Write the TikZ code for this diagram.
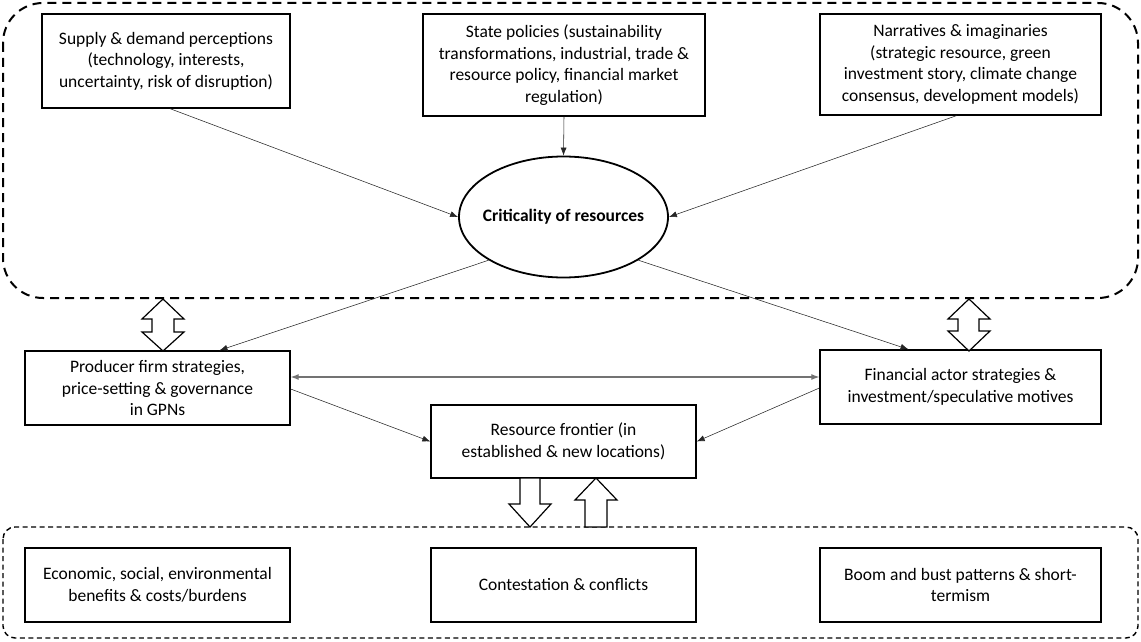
\documentclass[tikz,border=0pt]{standalone}
\usepackage{fontspec}
\setmainfont{Carlito}
\usetikzlibrary{arrows.meta,calc,shapes.geometric}
\begin{document}
\begin{tikzpicture}[x=1pt,y=-1pt,
  box/.style={draw,line width=1.3pt,align=center,inner sep=2pt,font=\fontsize{17.5}{21.5}\selectfont},
  conn/.style={draw=black!85,line width=0.55pt,-{Latex[length=8pt,width=6pt]}},
  hconn/.style={draw=black!55,line width=1.1pt,{Latex[length=8pt,width=6pt]}-{Latex[length=8pt,width=6pt]}},
  topregion/.style={draw,line width=2pt,dash pattern=on 9pt off 6pt,rounded corners=40pt},
  botregion/.style={draw,line width=1.4pt,dash pattern=on 5pt off 3.5pt,rounded corners=12pt},
  blockarrow/.style={draw,line width=1.2pt,fill=white,line join=miter}]
\useasboundingbox (0,0) rectangle (1141,642);

% dashed regions
\draw[topregion] (3,3) rectangle (1138,298);
\draw[botregion] (3,527) rectangle (1138,638);

% top boxes
\node[box,minimum width=248pt,minimum height=94pt] (b1) at (166,61)
  {Supply \& demand perceptions\\(technology, interests,\\uncertainty, risk of disruption)};
\node[box,minimum width=282pt,minimum height=102pt] (b2) at (564,65)
  {State policies (sustainability\\transformations, industrial, trade \&\\resource policy, financial market\\regulation)};
\node[box,minimum width=281pt,minimum height=101pt] (b3) at (960.5,64.5)
  {Narratives \& imaginaries\\(strategic resource, green\\investment story, climate change\\consensus, development models)};

% ellipse
\node[draw,ellipse,line width=1.8pt,inner sep=0pt,minimum width=209pt,minimum height=121pt,
  font=\fontsize{17.5}{21.5}\selectfont\bfseries] (ell) at (563.5,217)
  {\makebox[0pt]{Criticality of resources}};

% middle boxes
\node[box,minimum width=265pt,minimum height=74pt] (prod) at (157.5,388)
  {Producer firm strategies,\\price-setting \& governance\\in GPNs};
\node[box,minimum width=281pt,minimum height=74pt] (fin) at (960.5,387)
  {Financial actor strategies \&\\investment/speculative motives};
\node[box,minimum width=265pt,minimum height=73pt] (res) at (563.5,441.5)
  {Resource frontier (in\\established \& new locations)};

% bottom boxes
\node[box,minimum width=265pt,minimum height=74pt] (econ) at (157.5,585)
  {Economic, social, environmental\\benefits \& costs/burdens};
\node[box,minimum width=265pt,minimum height=74pt] (cont) at (563.5,585)
  {Contestation \& conflicts};
\node[box,minimum width=281pt,minimum height=74pt] (boom) at (960.5,585)
  {Boom and bust patterns \& short-\\termism};

% connectors
\draw[conn] ([xshift=4pt]b1.south) -- (ell.west);
\draw[conn] (b2.south) -- (ell.north);
\draw[conn] ([xshift=-4pt]b3.south) -- (ell.east);
\draw[conn] (ell.210) -- ([xshift=62pt]prod.north);
\draw[conn] (ell.330) -- ([xshift=-52pt]fin.north);
\draw[hconn] ([yshift=11pt]prod.east) -- ([yshift=10pt]fin.west);
\draw[conn] ([yshift=-1pt]prod.east) -- (res.west);
\draw[conn] ([yshift=-1pt]fin.west) -- (res.east);

% block arrows
\draw[blockarrow] (163,299) -- (184,319) -- (174,319) -- (174,332) -- (184,332) -- (163,351)
  -- (142,332) -- (152,332) -- (152,319) -- (142,319) -- cycle;
\draw[blockarrow] (969,299) -- (990,319) -- (979,319) -- (979,331) -- (990,331) -- (969,351)
  -- (948,331) -- (958,331) -- (958,319) -- (948,319) -- cycle;
\draw[blockarrow] (520,478) -- (540,478) -- (540,504) -- (551,504) -- (530,527) -- (509,504)
  -- (520,504) -- cycle;
\draw[blockarrow] (585,527) -- (585,500) -- (575,500) -- (596,478) -- (617,500) -- (607,500)
  -- (607,527) -- cycle;
\end{tikzpicture}
\end{document}
